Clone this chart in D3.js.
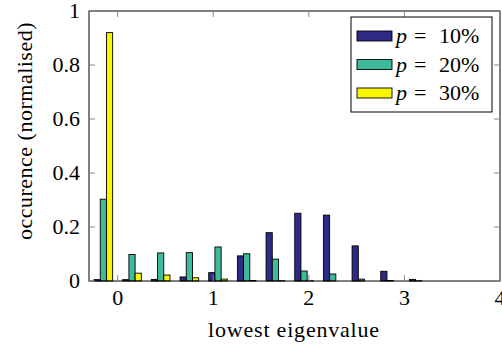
<!DOCTYPE html>
<html>
<head>
<meta charset="utf-8">
<script src="https://cdn.jsdelivr.net/npm/d3@7"></script>
<style>
  body { margin: 0; background: #fff; }
</style>
</head>
<body>
<div class="chart"></div>
<script>
// bin centres along the x axis, one group of three bars each
const binCenters = [-0.15, 0.15, 0.45, 0.75, 1.05, 1.35, 1.65, 1.95, 2.25, 2.55, 2.85, 3.15, 3.45, 3.75];
const p10 = [0.005, 0.005, 0.006, 0.015, 0.031, 0.093, 0.179, 0.251, 0.244, 0.130, 0.036, 0.006, 0, 0];
const p20 = [0.303, 0.098, 0.104, 0.105, 0.126, 0.101, 0.081, 0.037, 0.026, 0.007, 0.002, 0.001, 0, 0];
const p30 = [0.920, 0.029, 0.022, 0.012, 0.007, 0.002, 0.001, 0.001, 0, 0, 0, 0, 0, 0];
const seriesNames = ["10%", "20%", "30%"];
const seriesColors = ["#2f2a84", "#3dbb9b", "#f9f400"];
const xTicks = [0, 1, 2, 3, 4];
const yTicks = [0, 0.2, 0.4, 0.6, 0.8, 1];

const width = 502, height = 349;
const plotL = 89, plotR = 500, plotT = 11, plotB = 281;
const barW = 0.065; // in x units

const svg = d3.select(".chart").append("svg")
  .attr("width", width)
  .attr("height", height)
  .attr("font-family", "'Liberation Serif', serif");

const x = d3.scaleLinear().domain([-0.3, 4]).range([plotL, plotR]);
const y = d3.scaleLinear().domain([0, 1]).range([plotB, plotT]);

// bars
const series = [p10, p20, p30];
series.forEach((vals, s) => {
  svg.append("g").selectAll("rect")
    .data(vals)
    .join("rect")
    .attr("x", (d, i) => x(binCenters[i] + (s - 1) * barW - barW / 2))
    .attr("width", x(barW) - x(0))
    .attr("y", d => y(d))
    .attr("height", d => y(0) - y(d))
    .attr("fill", seriesColors[s])
    .attr("stroke", "#000")
    .attr("stroke-width", 0.9);
});

// frame + ticks
const frame = svg.append("g");
frame.append("rect")
  .attr("x", plotL).attr("y", plotT)
  .attr("width", plotR - plotL).attr("height", plotB - plotT)
  .attr("fill", "none").attr("stroke", "#000").attr("stroke-width", 1);

const tickLen = 6;
xTicks.forEach(t => {
  frame.append("line").attr("x1", x(t)).attr("x2", x(t))
    .attr("y1", plotB).attr("y2", plotB - tickLen)
    .attr("stroke", "#888").attr("stroke-width", 1);
  frame.append("line").attr("x1", x(t)).attr("x2", x(t))
    .attr("y1", plotT).attr("y2", plotT + tickLen)
    .attr("stroke", "#888").attr("stroke-width", 1);
});
yTicks.forEach(t => {
  frame.append("line").attr("x1", plotL).attr("x2", plotL + tickLen)
    .attr("y1", y(t)).attr("y2", y(t))
    .attr("stroke", "#888").attr("stroke-width", 1);
  frame.append("line").attr("x1", plotR).attr("x2", plotR - tickLen)
    .attr("y1", y(t)).attr("y2", y(t))
    .attr("stroke", "#888").attr("stroke-width", 1);
});

// tick labels
svg.append("g").selectAll("text")
  .data(xTicks)
  .join("text")
  .attr("x", d => x(d))
  .attr("y", 305)
  .attr("text-anchor", "middle")
  .attr("font-size", 22)
  .text(d => d);

svg.append("g").selectAll("text")
  .data(yTicks)
  .join("text")
  .attr("x", 80)
  .attr("y", d => y(d) + 7)
  .attr("text-anchor", "end")
  .attr("font-size", 22)
  .text(d => d);

// axis labels
svg.append("text")
  .attr("x", 294).attr("y", 337)
  .attr("text-anchor", "middle")
  .attr("font-size", 22)
  .attr("letter-spacing", 0.8)
  .text("lowest eigenvalue");

svg.append("text")
  .attr("transform", "translate(32,131) rotate(-90)")
  .attr("text-anchor", "middle")
  .attr("font-size", 22)
  .attr("letter-spacing", 0.5)
  .text("occurence (normalised)");

// legend
const legend = svg.append("g");
legend.append("rect")
  .attr("x", 351).attr("y", 17)
  .attr("width", 141).attr("height", 95)
  .attr("fill", "#fff").attr("stroke", "#000").attr("stroke-width", 1);

seriesNames.forEach((name, i) => {
  const cy = 36 + i * 28.5;
  legend.append("rect")
    .attr("x", 357).attr("y", cy - 5)
    .attr("width", 35).attr("height", 10)
    .attr("fill", seriesColors[i]).attr("stroke", "#000").attr("stroke-width", 0.9);
  const t = legend.append("text")
    .attr("x", 396).attr("y", cy + 7)
    .attr("font-size", 22);
  t.append("tspan").attr("font-style", "italic").text("p");
  t.append("tspan").attr("x", 414).text("=");
  t.append("tspan").attr("x", 439).text(name);
});
</script>
</body>
</html>
